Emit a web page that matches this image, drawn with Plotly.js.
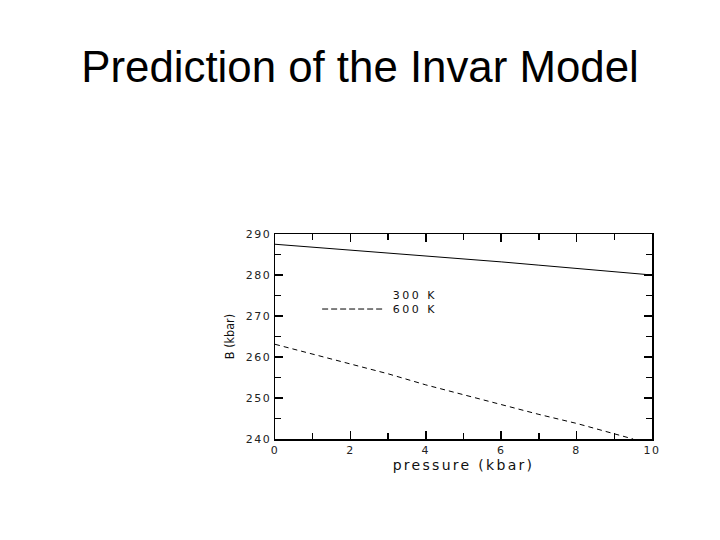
<!DOCTYPE html>
<html>
<head>
<meta charset="utf-8">
<script src="https://cdn.plot.ly/plotly-3.0.1.min.js"></script>
<style>
html,body{margin:0;padding:0;background:#fff;}
g.xtick text, g.ytick text {letter-spacing: 1.5px;}
text.xtitle {letter-spacing: 2.3px;}
g.annotation text {letter-spacing: 2.5px;}
</style>
</head>
<body>
<div id="chart" style="width:720px;height:540px;"></div>
<script>
// Data
const pressure300 = [0, 1, 2, 3, 4, 5, 6, 7, 8, 9, 10];
const bulk300 = [287.5, 286.8, 286.1, 285.4, 284.7, 284.0, 283.2, 282.4, 281.6, 280.8, 280.0];
const pressure600 = [0, 1, 2, 3, 4, 5, 6, 7, 8, 9, 9.5];
const bulk600 = [263.1, 260.7, 258.3, 255.9, 253.2, 250.8, 248.4, 246.0, 243.8, 241.2, 240.0];
const seriesNames = ["300 K", "600 K"];
const xTicks = [0, 2, 4, 6, 8, 10];
const yTicks = [240, 250, 260, 270, 280, 290];

const tickFont = {family: "DejaVu Sans, Liberation Sans, sans-serif", size: 11, color: "#222"};

const traces = [
  {x: pressure300, y: bulk300, mode: "lines", name: seriesNames[0], line: {color: "#000", width: 1}, showlegend: false},
  {x: pressure600, y: bulk600, mode: "lines", name: seriesNames[1], line: {color: "#000", width: 1, dash: "5px,4px"}, showlegend: false}
];

const axisCommon = {
  showline: true, linecolor: "#000", linewidth: 1.5, mirror: "ticks",
  ticks: "inside", ticklen: 8, tickwidth: 1.5, tickcolor: "#000",
  showgrid: false, zeroline: false, tickfont: tickFont
};

const layout = {
  width: 720, height: 540,
  paper_bgcolor: "#fff", plot_bgcolor: "#fff",
  margin: {l: 275, r: 68, t: 234, b: 101},
  title: {
    text: "Prediction of the Invar Model",
    font: {family: "Liberation Sans, Arial, sans-serif", size: 43.8, color: "#000"},
    x: 0.5, xanchor: "center", xref: "container",
    y: 0.876, yanchor: "middle", yref: "container"
  },
  xaxis: Object.assign({}, axisCommon, {
    range: [0, 10], tickvals: xTicks, ticktext: xTicks.map(String),
    minor: {ticks: "inside", dtick: 1, ticklen: 6, tickwidth: 1.5, tickcolor: "#000"},
    title: {text: "pressure (kbar)", font: {family: "DejaVu Sans, Liberation Sans, sans-serif", size: 14, color: "#111"}, standoff: 0}
  }),
  yaxis: Object.assign({}, axisCommon, {
    range: [240, 290], tickvals: yTicks, ticktext: yTicks.map(String),
    minor: {ticks: "inside", dtick: 5, ticklen: 6, tickwidth: 1.5, tickcolor: "#000"},
    title: {text: "B (kbar)", font: {family: "DejaVu Sans Condensed, Liberation Sans, sans-serif", size: 12.5, color: "#111"}, standoff: 8}
  }),
  annotations: [
    {text: seriesNames[0], xref: "paper", yref: "paper", x: 0.371, y: 0.698, xanchor: "center", yanchor: "middle", showarrow: false,
     font: {family: "DejaVu Sans, Liberation Sans, sans-serif", size: 11, color: "#111"}},
    {text: seriesNames[1], xref: "paper", yref: "paper", x: 0.371, y: 0.634, xanchor: "center", yanchor: "middle", showarrow: false,
     font: {family: "DejaVu Sans, Liberation Sans, sans-serif", size: 11, color: "#111"}}
  ],
  shapes: [
    {type: "line", xref: "paper", yref: "paper", x0: 0.125, x1: 0.288, y0: 0.634, y1: 0.634,
     line: {color: "#000", width: 1, dash: "6px,3px"}}
  ]
};

Plotly.newPlot("chart", traces, layout, {displayModeBar: false, staticPlot: true});
</script>
</body>
</html>
